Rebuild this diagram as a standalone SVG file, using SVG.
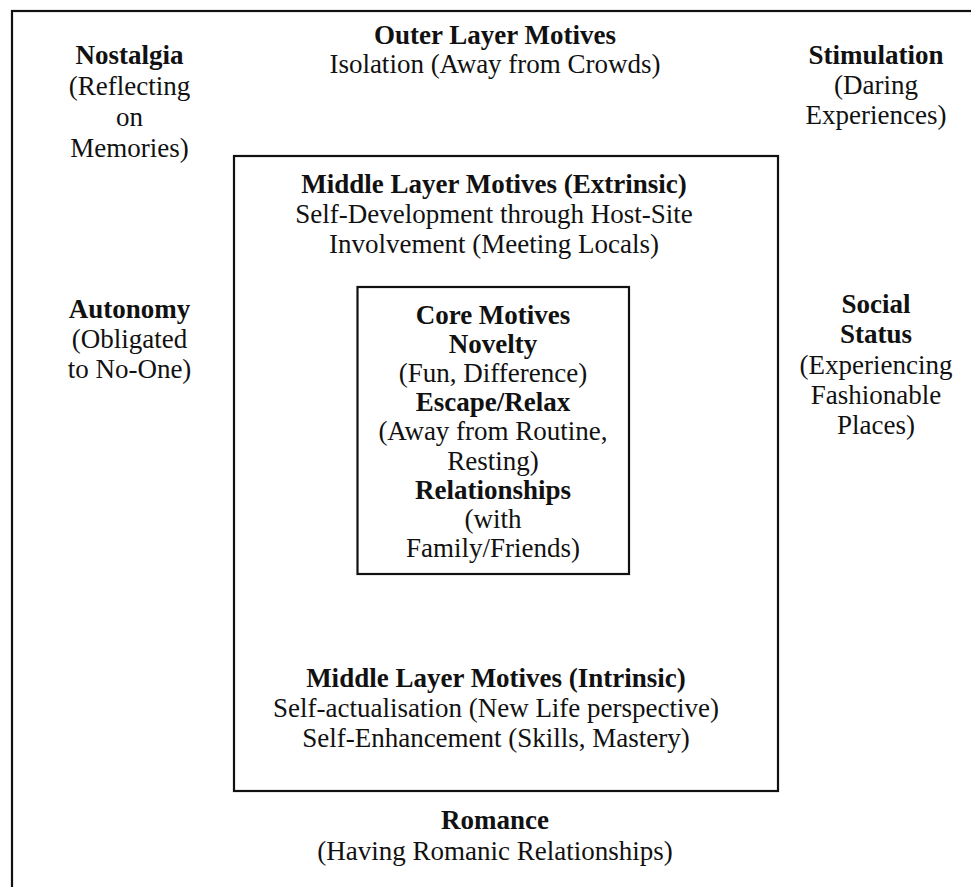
<svg xmlns="http://www.w3.org/2000/svg" width="971" height="887" viewBox="0 0 971 887">
  <style>
    .frame { fill: none; stroke: #111; stroke-width: 2.2; }
    text { font-family: "Liberation Serif", "Times New Roman", serif; font-size: 27px; fill: #111; text-anchor: middle; }
    .b { font-weight: bold; }
  </style>
  <rect x="0" y="0" width="971" height="887" fill="#fff"/>

  <!-- outer layer frame (runs past the right and bottom edges) -->
  <g id="outer-layer">
    <rect class="frame" x="12" y="11" width="1000" height="900"/>
    <text class="b" x="495" y="44">Outer Layer Motives</text>
    <text x="495" y="73">Isolation (Away from Crowds)</text>
  </g>

  <g id="nostalgia">
    <text class="b" x="129.5" y="64">Nostalgia</text>
    <text x="129.5" y="95">(Reflecting</text>
    <text x="129.5" y="126">on</text>
    <text x="129.5" y="157">Memories)</text>
  </g>

  <g id="stimulation">
    <text class="b" x="876" y="64">Stimulation</text>
    <text x="876" y="94">(Daring</text>
    <text x="876" y="124">Experiences)</text>
  </g>

  <g id="autonomy">
    <text class="b" x="129.5" y="318">Autonomy</text>
    <text x="129.5" y="348">(Obligated</text>
    <text x="129.5" y="378">to No-One)</text>
  </g>

  <g id="social-status">
    <text class="b" x="876" y="313">Social</text>
    <text class="b" x="876" y="343">Status</text>
    <text x="876" y="374">(Experiencing</text>
    <text x="876" y="404">Fashionable</text>
    <text x="876" y="434">Places)</text>
  </g>

  <g id="romance">
    <text class="b" x="495" y="829">Romance</text>
    <text x="495" y="860">(Having Romanic Relationships)</text>
  </g>

  <!-- middle layer frame -->
  <g id="middle-layer">
    <rect class="frame" x="234" y="156" width="544" height="635"/>
    <text class="b" x="494" y="193">Middle Layer Motives (Extrinsic)</text>
    <text x="494" y="223">Self-Development through Host-Site</text>
    <text x="494" y="253">Involvement (Meeting Locals)</text>
    <text class="b" x="496" y="687">Middle Layer Motives (Intrinsic)</text>
    <text x="496" y="717">Self-actualisation (New Life perspective)</text>
    <text x="496" y="747">Self-Enhancement (Skills, Mastery)</text>
  </g>

  <!-- core frame -->
  <g id="core">
    <rect class="frame" x="357.5" y="287" width="271.5" height="287"/>
    <text class="b" x="493" y="324">Core Motives</text>
    <text class="b" x="493" y="353">Novelty</text>
    <text x="493" y="382">(Fun, Difference)</text>
    <text class="b" x="493" y="411">Escape/Relax</text>
    <text x="493" y="440">(Away from Routine,</text>
    <text x="493" y="469.5">Resting)</text>
    <text class="b" x="493" y="498.5">Relationships</text>
    <text x="493" y="527.5">(with</text>
    <text x="493" y="557">Family/Friends)</text>
  </g>

  <g id="connectors"></g>
</svg>
